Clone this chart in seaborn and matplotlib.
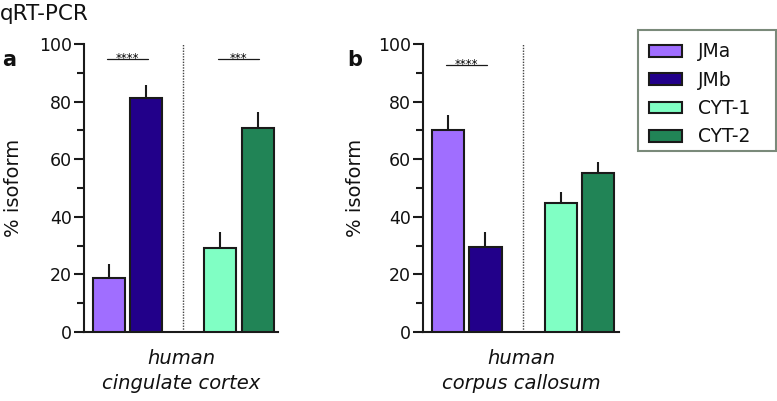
import matplotlib
matplotlib.use("Agg")
import matplotlib.pyplot as plt
from matplotlib.patches import Patch, Rectangle
from matplotlib.ticker import MultipleLocator
import seaborn as sns
import pandas as pd

# ---- data ----
isoforms = ["JMa", "JMb", "CYT-1", "CYT-2"]
cortex_vals = [18.6, 81.3, 29.3, 70.9]
cortex_sem = [4.9, 4.5, 5.4, 5.5]
callosum_vals = [70.1, 29.6, 44.8, 55.2]
callosum_sem = [5.1, 5.0, 3.9, 3.9]
panel_labels = ["a", "b"]
region_labels = ["human\ncingulate cortex", "human\ncorpus callosum"]
# significance: (left isoform, right isoform, stars)
cortex_sig = [("JMa", "JMb", "****"), ("CYT-1", "CYT-2", "***")]
callosum_sig = [("JMa", "JMb", "****")]
sig_level = [94.7, 92.6]
yticks = [0, 20, 40, 60, 80, 100]

colors = {"JMa": "#A06EFF", "JMb": "#22008A", "CYT-1": "#80FFC4", "CYT-2": "#218456"}
edge = "#1a1a1a"
order = ["JMa", "JMb", "", "CYT-1", "CYT-2"]

sns.set_style("ticks")
plt.rcParams["font.family"] = ["DejaVu Sans"]
plt.rcParams["text.color"] = "#111111"
plt.rcParams["axes.labelcolor"] = "#111111"
plt.rcParams["ytick.color"] = "#111111"

fig = plt.figure(figsize=(7.77, 4.01), dpi=100)
W, H = 777, 401
ax_a = fig.add_axes([84 / W, 69 / H, 194 / W, 288 / H])
ax_b = fig.add_axes([423 / W, 69 / H, 196 / W, 288 / H])

panels = [
    (ax_a, cortex_vals, cortex_sem, cortex_sig, sig_level[0], -0.315, (2, 60), panel_labels[0], region_labels[0]),
    (ax_b, callosum_vals, callosum_sem, callosum_sig, sig_level[1], -0.295, (347, 60), panel_labels[1], region_labels[1]),
]

for ax, vals, sems, sigs, sy, ylab_x, lab_pos, plab, rlab in panels:
    df = pd.DataFrame({"isoform": isoforms, "value": vals, "sem": sems})
    sns.barplot(data=df, x="isoform", y="value", hue="isoform", palette=colors,
                order=order, width=0.86, edgecolor=edge, linewidth=1.5,
                saturation=1, legend=False, ax=ax, zorder=3)
    xs = [order.index(c) for c in isoforms]
    ax.errorbar(xs, vals, yerr=[[0] * len(vals), sems], fmt="none",
                ecolor=edge, elinewidth=1.5, capsize=0, zorder=2)
    # divider
    ax.plot([order.index(""), order.index("")], [0, 100], ls=(0, (1, 1.0)),
            color="#444444", lw=1.0, zorder=1)
    # significance
    for l, r, stars in sigs:
        x0, x1 = order.index(l), order.index(r)
        ax.plot([x0 - 0.05, x1 + 0.05], [sy, sy], color=edge, lw=0.9)
        ax.text((x0 + x1) / 2, sy - 0.8, stars, ha="center", va="baseline",
                fontsize=8.5, color="#000000")
    ax.set_ylim(0, 100)
    ax.set_xlim(-0.66, 4.55)
    ax.set_yticks(yticks)
    ax.yaxis.set_minor_locator(MultipleLocator(10))
    ax.tick_params(axis="y", which="major", length=7, width=1.5, labelsize=12.5, pad=1.5,
                   color=edge, labelcolor="#111111")
    ax.tick_params(axis="y", which="minor", length=5, width=1.5, color=edge)
    ax.tick_params(axis="x", length=0, labelbottom=False)
    for s in ["left", "bottom"]:
        ax.spines[s].set_linewidth(1.5)
        ax.spines[s].set_color(edge)
    sns.despine(ax=ax)
    ax.set_ylabel("% isoform", fontsize=14)
    ax.yaxis.set_label_coords(ylab_x, 0.5)
    ax.set_xlabel(rlab, fontsize=14, style="italic", labelpad=12, linespacing=1.45)
    fig.text(lab_pos[0] / W, 1 - lab_pos[1] / H, plab, fontsize=15,
             fontweight="bold", ha="left", va="center")

fig.text(0.0, 1 - 4 / H, "qRT-PCR", fontsize=15.5, ha="left", va="top")

handles = [Patch(facecolor=colors[c], edgecolor=edge, linewidth=1.5) for c in isoforms]
leg = fig.legend(handles, isoforms, loc="upper left", bbox_to_anchor=(640 / W, 1 - 33 / H),
                 frameon=False, fontsize=13.5, handlelength=1.75,
                 handleheight=0.6, handletextpad=0.85, labelspacing=0.5,
                 borderpad=0.5, borderaxespad=0)
fig.patches.append(Rectangle((638 / W, 1 - 151 / H), 138 / W, 121 / H,
                             transform=fig.transFigure, fill=False,
                             edgecolor="#7a8a7a", linewidth=1.5))

fig.savefig("out.png", dpi=100)
